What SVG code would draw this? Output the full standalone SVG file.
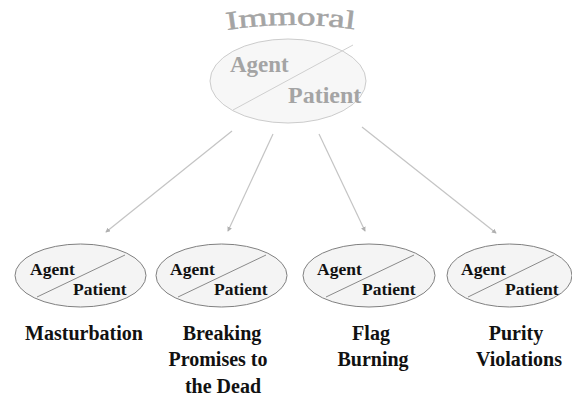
<svg xmlns="http://www.w3.org/2000/svg" width="572" height="396" viewBox="0 0 572 396">
<style>
.lbl{font-family:"Liberation Serif","DejaVu Serif",serif;font-weight:bold;fill:#111}
.small{font-size:17.5px}
.cap{font-size:20px;text-anchor:middle}
.ell{fill:#f4f4f4;stroke:#808080;stroke-width:1}
.diag{stroke:#8a8a8a;stroke-width:1}
.conn{stroke:#c4c4c4;stroke-width:1.2;fill:none;marker-end:url(#ah)}
.top{font-family:"Liberation Serif","DejaVu Serif",serif;fill:#a4a4a4}
</style>
<defs>
<marker id="ah" viewBox="0 0 6 6" refX="5" refY="3" markerWidth="4" markerHeight="4" orient="auto" markerUnits="strokeWidth">
<path d="M0,0 L6,3 L0,6 z" fill="#b0b0b0"/>
</marker>
<path id="arc" d="M 227 30 Q 291 20 360 30"/>
</defs>
<rect width="572" height="396" fill="#fff"/>
<g id="immoral">
<text class="top" font-size="26" stroke="#a4a4a4" stroke-width="0.5" textLength="128" lengthAdjust="spacingAndGlyphs"><textPath href="#arc">Immoral</textPath></text>
<ellipse cx="288" cy="81" rx="78" ry="42" fill="#f7f7f7" stroke="#cccccc" stroke-width="1"/>
<line x1="233" y1="110" x2="353" y2="45" stroke="#cfcfcf" stroke-width="1"/>
<text class="top" x="230" y="72" font-size="23" font-weight="bold">Agent</text>
<text class="top" x="288" y="103" font-size="24" font-weight="bold">Patient</text>
</g>
<g id="connectors">
<line class="conn" x1="232" y1="131" x2="106" y2="232"/>
<line class="conn" x1="273" y1="134" x2="228" y2="231"/>
<line class="conn" x1="319" y1="134" x2="365" y2="231"/>
<line class="conn" x1="362" y1="127" x2="496" y2="233"/>
</g>
<g id="masturbation">
<ellipse class="ell" cx="80.5" cy="275.5" rx="65.5" ry="31.5"/>
<line class="diag" x1="37" y1="297" x2="125" y2="255"/>
<text class="lbl small" x="30" y="275">Agent</text>
<text class="lbl small" x="73" y="295">Patient</text>
<text class="lbl cap" x="84" y="340">Masturbation</text>
</g>
<g id="breaking">
<ellipse class="ell" cx="221.5" cy="275.5" rx="65.5" ry="31.5"/>
<line class="diag" x1="178" y1="297" x2="266" y2="255"/>
<text class="lbl small" x="170" y="275">Agent</text>
<text class="lbl small" x="214" y="295">Patient</text>
<text class="lbl cap" x="222" y="340">Breaking</text>
<text class="lbl cap" x="218" y="366">Promises to</text>
<text class="lbl cap" x="223" y="393">the Dead</text>
</g>
<g id="flag">
<ellipse class="ell" cx="369" cy="275.5" rx="66" ry="31.5"/>
<line class="diag" x1="326" y1="297" x2="414" y2="255"/>
<text class="lbl small" x="317" y="275">Agent</text>
<text class="lbl small" x="362" y="295">Patient</text>
<text class="lbl cap" x="371" y="340">Flag</text>
<text class="lbl cap" x="373" y="366">Burning</text>
</g>
<g id="purity">
<ellipse class="ell" cx="509.5" cy="275.5" rx="62.5" ry="31.5"/>
<line class="diag" x1="468" y1="297" x2="554" y2="255"/>
<text class="lbl small" x="461" y="275">Agent</text>
<text class="lbl small" x="505" y="295">Patient</text>
<text class="lbl cap" x="516" y="340">Purity</text>
<text class="lbl cap" x="519" y="366">Violations</text>
</g>
</svg>
